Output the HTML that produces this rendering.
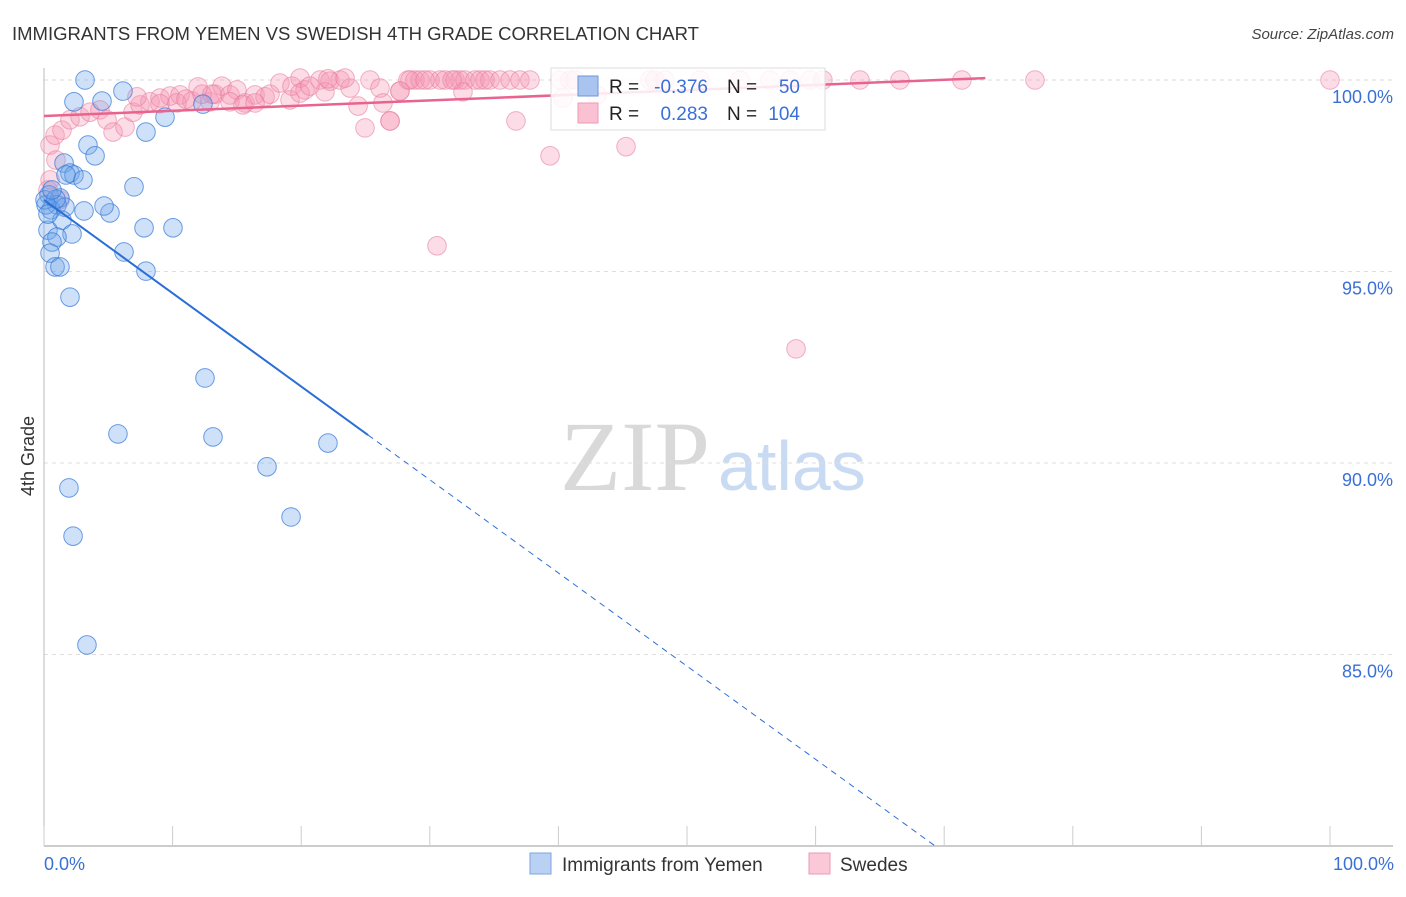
<!DOCTYPE html>
<html><head><meta charset="utf-8">
<style>
body{margin:0;background:#fff;font-family:"Liberation Sans",sans-serif;}
svg text{font-family:"Liberation Sans",sans-serif;}
svg text.serif{font-family:"Liberation Serif",serif;}
</style></head>
<body>
<svg id="chart" width="1406" height="892" viewBox="0 0 1406 892" xmlns="http://www.w3.org/2000/svg">
<text x="12" y="40" font-size="18" fill="#333" textLength="687" lengthAdjust="spacingAndGlyphs">IMMIGRANTS FROM YEMEN VS SWEDISH 4TH GRADE CORRELATION CHART</text>
<text x="1394" y="39" font-size="15" fill="#444" font-style="italic" text-anchor="end">Source: ZipAtlas.com</text>
<g>
<text class="serif" x="635" y="490" font-size="100" fill="#d9d9d9" text-anchor="middle">ZIP</text>
<text x="718" y="490" font-size="70" fill="#c9dbf3">atlas</text>
</g>
<g id="grid"></g>
<g id="axes"></g>
<g id="marks"></g>
<text transform="translate(34,456) rotate(-90)" font-size="18" fill="#333" text-anchor="middle">4th Grade</text>
<g>
<rect x="551" y="68" width="274" height="62" fill="#fff" fill-opacity="0.85" stroke="#ddd"/>
<rect x="578" y="76" width="20" height="20" fill="#a9c4ee" stroke="#6e95da"/>
<rect x="578" y="103" width="20" height="20" fill="#f9c1d2" stroke="#ee9ab5"/>
<text x="609" y="93" font-size="19" fill="#222">R =</text>
<text x="708" y="93" font-size="19" fill="#3a70d6" text-anchor="end">-0.376</text>
<text x="727" y="93" font-size="19" fill="#222">N =</text>
<text x="800" y="93" font-size="19" fill="#3a70d6" text-anchor="end">50</text>
<text x="609" y="120" font-size="19" fill="#222">R =</text>
<text x="708" y="120" font-size="19" fill="#3a70d6" text-anchor="end">0.283</text>
<text x="727" y="120" font-size="19" fill="#222">N =</text>
<text x="800" y="120" font-size="19" fill="#3a70d6" text-anchor="end">104</text>
</g>
<g>
<rect x="530" y="853" width="21" height="21" fill="#b9d2f3" stroke="#7ea4e0"/>
<text x="562" y="871" font-size="19" fill="#333">Immigrants from Yemen</text>
<rect x="809" y="853" width="21" height="21" fill="#fbc8d8" stroke="#ee9ab5"/>
<text x="840" y="871" font-size="19" fill="#333">Swedes</text>
</g>
</svg>
<script>
const yTicks=[100,95,90,85];
const yTickLabels=["100.0%","95.0%","90.0%","85.0%"];
const xTicks=[0,10,20,30,40,50,60,70,80,90,100];
const blueX=[3.19,6.14,2.33,4.51,12.36,9.41,7.93,3.42,3.97,1.56,2.02,2.33,3.03,7.0,0.39,1.24,1.01,0.54,1.63,3.11,5.13,4.67,1.4,0.31,2.18,1.01,0.62,7.78,10.03,0.47,6.22,0.86,1.24,7.93,2.02,12.52,5.75,13.14,22.08,17.34,1.94,19.21,2.26,3.34,0.16,0.08,0.93,0.31,0.62,1.71];
const blueY=[100.0,99.71,99.43,99.45,99.37,99.03,98.64,98.3,98.02,97.83,97.57,97.52,97.39,97.21,97.0,96.92,96.74,96.61,96.68,96.58,96.53,96.71,96.34,96.08,95.98,95.9,95.77,96.14,96.14,95.48,95.51,95.12,95.12,95.01,94.33,92.22,90.76,90.68,90.52,89.9,89.35,88.59,88.09,85.25,96.74,96.87,96.89,96.5,97.13,97.52];
const pinkX=[0.47,0.86,1.4,2.02,2.8,3.58,4.35,4.9,5.37,6.3,6.92,7.47,8.24,9.02,9.8,10.58,11.51,11.98,12.91,13.3,13.84,14.46,15.0,15.63,16.41,17.19,17.57,18.35,19.13,19.28,19.91,20.3,21.46,22.24,23.02,23.8,24.42,25.35,26.13,26.36,26.91,27.68,28.3,28.85,29.24,30.02,30.79,31.18,31.96,32.35,32.74,33.51,33.9,34.29,34.68,35.46,36.24,37.01,37.79,32.58,31.73,24.96,26.91,36.7,39.35,45.26,30.56,58.48,40.12,40.9,41.29,47.12,47.51,48.29,51.01,54.12,56.45,58.01,59.56,60.57,63.45,66.56,71.38,77.06,100.0,43.0,40.36,0.47,0.31,0.93,1.24,7.23,9.02,10.34,11.04,12.29,13.06,14.46,15.47,16.41,19.91,20.68,21.85,22.08,23.41,27.68,28.46,29.63];
const pinkY=[98.3,98.56,98.69,98.96,99.04,99.16,99.22,98.96,98.64,98.77,99.16,99.35,99.43,99.53,99.58,99.61,99.45,99.82,99.43,99.63,99.84,99.61,99.74,99.4,99.61,99.56,99.63,99.92,99.48,99.84,100.05,99.74,100.0,99.97,100.0,99.79,99.32,100.0,99.79,99.4,98.93,99.71,100.0,100.0,100.0,100.0,100.0,100.0,100.0,100.0,100.0,100.0,100.0,100.0,100.0,100.0,100.0,100.0,100.0,99.69,100.0,98.75,98.93,98.93,98.02,98.26,95.67,92.98,100.0,100.0,100.0,100.0,100.0,100.0,100.0,100.0,100.0,100.0,100.0,100.0,100.0,100.0,100.0,100.0,100.0,99.61,99.53,97.39,97.13,97.91,96.87,99.56,99.38,99.4,99.5,99.63,99.63,99.43,99.35,99.4,99.66,99.84,99.69,100.03,100.05,99.71,100.0,100.0];
const blueTrend=[[0,96.87],[25.2,90.73]];
const blueTrendDash=[[25.2,90.73],[69.3,80.0]];
const pinkTrend=[[0,99.06],[73.2,100.05]];

const NS="http://www.w3.org/2000/svg";
const X0=44,XS=12.86,Y0=80,YS=38.3;
function sx(v){return X0+v*XS;}
function sy(v){return Y0+(100-v)*YS;}
function mk(tag,attrs,parent){const e=document.createElementNS(NS,tag);for(const k in attrs)e.setAttribute(k,attrs[k]);parent.appendChild(e);return e;}
const grid=document.getElementById('grid'),axes=document.getElementById('axes'),marks=document.getElementById('marks');
yTicks.forEach((t,i)=>{
  const l=mk('line',{x1:44,x2:1393,y1:sy(t),y2:sy(t),stroke:'#ddd','stroke-dasharray':'4,4'},grid);
  
  
  const tx=mk('text',{x:1393,y:sy(t)+23,'font-size':18,fill:'#3a70d6','text-anchor':'end'},axes);
  tx.textContent=yTickLabels[i];
  
  
});
const ay=mk('line',{x1:44,x2:44,y1:68,y2:846,stroke:'#bbb'},axes);


const ax=mk('line',{x1:44,x2:1393,y1:846,y2:846,stroke:'#bbb','stroke-width':1.5},axes);


xTicks.forEach(t=>{
  const l=mk('line',{x1:sx(t),x2:sx(t),y1:826,y2:846,stroke:'#ccc'},axes);
  
  
});
const xl0=mk('text',{x:44,y:870,'font-size':18,fill:'#3a70d6'},axes);xl0.textContent='0.0%';


const xl1=mk('text',{x:1394,y:870,'font-size':18,fill:'#3a70d6','text-anchor':'end'},axes);xl1.textContent='100.0%';



pinkX.forEach((v,i)=>{
  const c=mk('circle',{cx:sx(v),cy:sy(pinkY[i]),r:9.3,fill:'rgba(245,150,180,0.33)',stroke:'rgba(230,120,155,0.55)','stroke-width':1},marks);
  
  
});
blueX.forEach((v,i)=>{
  const c=mk('circle',{cx:sx(v),cy:sy(blueY[i]),r:9.3,fill:'rgba(110,165,235,0.33)',stroke:'rgba(50,120,215,0.7)','stroke-width':1},marks);
  
  
});
const bt=mk('line',{x1:sx(blueTrend[0][0]),y1:sy(blueTrend[0][1]),x2:sx(blueTrend[1][0]),y2:sy(blueTrend[1][1]),stroke:'#2a6fd6','stroke-width':2},marks);


const bd=mk('line',{x1:sx(blueTrendDash[0][0]),y1:sy(blueTrendDash[0][1]),x2:sx(blueTrendDash[1][0]),y2:sy(blueTrendDash[1][1]),stroke:'#2a6fd6','stroke-width':1,'stroke-dasharray':'6,5'},marks);


const pt=mk('line',{x1:sx(pinkTrend[0][0]),y1:sy(pinkTrend[0][1]),x2:sx(pinkTrend[1][0]),y2:sy(pinkTrend[1][1]),stroke:'#e8648f','stroke-width':2.5},marks);


</script>
</body></html>
